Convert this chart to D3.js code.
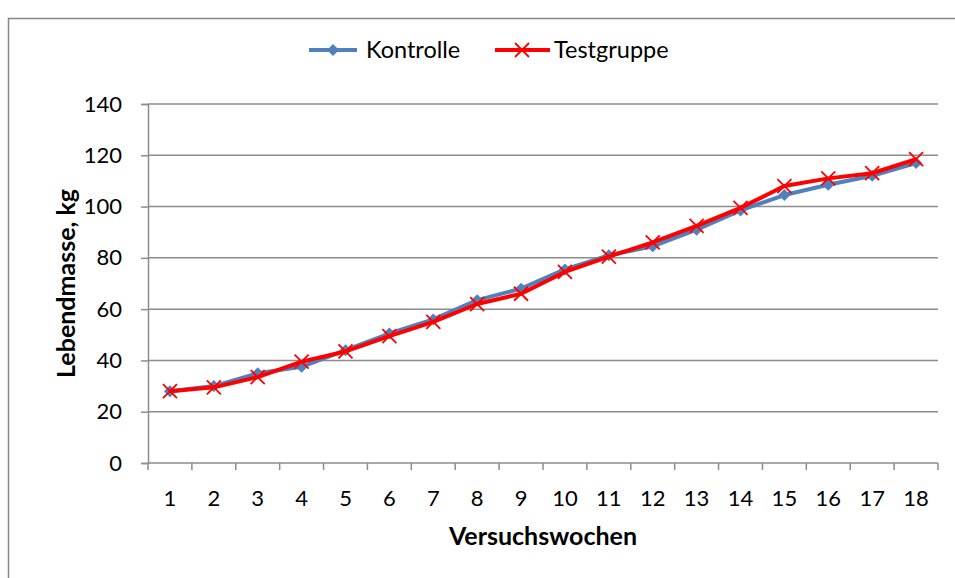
<!DOCTYPE html>
<html>
<head>
<meta charset="utf-8">
<script src="https://cdn.jsdelivr.net/npm/d3@7"></script>
<style>
  body { margin: 0; background: #fff; }
  text { font-family: Lato, "Open Sans", sans-serif; fill: #000; }
</style>
</head>
<body>
<svg></svg>
<script>
// chart data
var weeks = ["1","2","3","4","5","6","7","8","9","10","11","12","13","14","15","16","17","18"];
var kontrolle = [28, 30, 35, 37.5, 44, 50.5, 56, 63.5, 68, 75.5, 81, 84.5, 91, 98.5, 104.5, 108.5, 112, 117];
var testgruppe = [28, 29.5, 33.5, 39.5, 43.5, 49.5, 55, 62, 66, 74.5, 80.5, 86, 92.5, 99.5, 108, 111, 113, 118.5];
var yTicks = [0, 20, 40, 60, 80, 100, 120, 140];

function chart() {
    var width = 955,
        height = 578;
    var left = 148, right = 938, top = 104, bottom = 463;

    var svg = d3.select("svg")
        .attr("width", width)
        .attr("height", height);

    // outer frame
    svg.append("rect")
        .attr("x", 8.5).attr("y", 18.5)
        .attr("width", 960).attr("height", 580)
        .attr("fill", "none")
        .attr("stroke", "#888").attr("stroke-width", 1.5);

    var x = d3.scaleBand().domain(weeks).range([left, right]);
    var y = d3.scaleLinear().domain([0, 140]).range([bottom, top]);

    // gridlines
    svg.append("g").selectAll("line")
        .data(yTicks.slice(1))
        .enter().append("line")
        .attr("x1", left).attr("x2", right)
        .attr("y1", function(d) { return y(d); })
        .attr("y2", function(d) { return y(d); })
        .attr("stroke", "#8c8c8c").attr("stroke-width", 1.5);

    // y axis
    var yAxis = svg.append("g")
        .attr("transform", "translate(" + left + ",0)")
        .call(d3.axisLeft(y).tickValues(yTicks).tickSize(7).tickPadding(19));
    yAxis.select(".domain").attr("stroke", "#8c8c8c").attr("stroke-width", 1.5);
    yAxis.selectAll(".tick line").attr("stroke", "#8c8c8c").attr("stroke-width", 1.5);
    yAxis.selectAll("text").style("font-size", "22px").attr("fill", "#000");

    // x axis, ticks on category boundaries
    var xAxis = svg.append("g")
        .attr("transform", "translate(0," + bottom + ")")
        .call(d3.axisBottom(x).tickSize(0).tickPadding(27));
    xAxis.select(".domain").remove();
    xAxis.selectAll("text").style("font-size", "22px").attr("fill", "#000");
    svg.append("line")
        .attr("x1", left).attr("x2", right)
        .attr("y1", bottom).attr("y2", bottom)
        .attr("stroke", "#8c8c8c").attr("stroke-width", 1.5);
    var bounds = weeks.map(function(d) { return x(d); }).concat([right]);
    svg.append("g").selectAll("line")
        .data(bounds)
        .enter().append("line")
        .attr("x1", function(d) { return d; })
        .attr("x2", function(d) { return d; })
        .attr("y1", bottom).attr("y2", bottom + 7)
        .attr("stroke", "#8c8c8c").attr("stroke-width", 1.5);

    // axis titles
    svg.append("text")
        .attr("x", 543).attr("y", 545)
        .attr("text-anchor", "middle")
        .style("font-size", "25px").style("font-weight", "bold")
        .text("Versuchswochen");
    svg.append("text")
        .attr("transform", "translate(75," + ((top + bottom) / 2) + ") rotate(-90)")
        .attr("text-anchor", "middle")
        .style("font-size", "25px").style("font-weight", "bold")
        .text("Lebendmasse, kg");

    var cx = function(d, i) { return x(weeks[i]) + x.bandwidth() / 2; };
    var line = d3.line()
        .x(function(d, i) { return cx(d, i); })
        .y(function(d) { return y(d); });

    // Kontrolle
    svg.append("path")
        .datum(kontrolle)
        .attr("d", line)
        .attr("fill", "none")
        .attr("stroke", "#4f81bd").attr("stroke-width", 4)
        .attr("stroke-linejoin", "round");
    svg.append("g").selectAll("path")
        .data(kontrolle)
        .enter().append("path")
        .attr("transform", function(d, i) { return "translate(" + cx(d, i) + "," + y(d) + ")"; })
        .attr("d", "M0,-6L6,0L0,6L-6,0Z")
        .attr("fill", "#4f81bd");

    // Testgruppe
    svg.append("path")
        .datum(testgruppe)
        .attr("d", line)
        .attr("fill", "none")
        .attr("stroke", "#ff0000").attr("stroke-width", 4)
        .attr("stroke-linejoin", "round");
    svg.append("g").selectAll("path")
        .data(testgruppe)
        .enter().append("path")
        .attr("transform", function(d, i) { return "translate(" + cx(d, i) + "," + y(d) + ")"; })
        .attr("d", "M-7,-7L7,7M-7,7L7,-7")
        .attr("stroke", "#ff0000").attr("stroke-width", 1.8);

    // legend
    var leg = svg.append("g").attr("transform", "translate(0,50)");
    leg.append("line").attr("x1", 309).attr("x2", 357).attr("y1", 0).attr("y2", 0)
        .attr("stroke", "#4f81bd").attr("stroke-width", 4);
    leg.append("path").attr("transform", "translate(333,0)")
        .attr("d", "M0,-6L6,0L0,6L-6,0Z").attr("fill", "#4f81bd");
    leg.append("text").attr("x", 366).attr("y", 8).style("font-size", "23.5px").text("Kontrolle");
    leg.append("line").attr("x1", 495).attr("x2", 550).attr("y1", 0).attr("y2", 0)
        .attr("stroke", "#ff0000").attr("stroke-width", 4);
    leg.append("path").attr("transform", "translate(522,0)")
        .attr("d", "M-7,-7L7,7M-7,7L7,-7")
        .attr("stroke", "#ff0000").attr("stroke-width", 1.8);
    leg.append("text").attr("x", 554).attr("y", 8).style("font-size", "23.5px").text("Testgruppe");
}

chart();
</script>
</body>
</html>
